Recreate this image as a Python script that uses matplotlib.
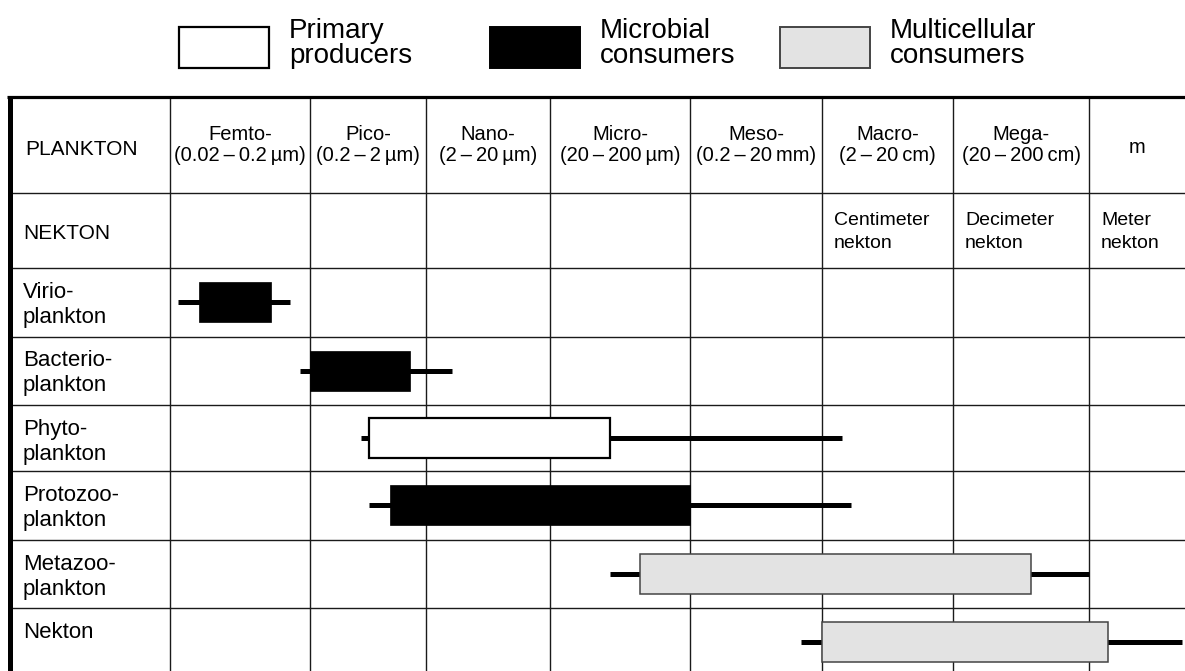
import numpy as np
import matplotlib.pyplot as plt
from matplotlib.patches import Rectangle

plt.rcParams['font.family'] = ['Liberation Sans', 'DejaVu Sans']

# ------------------------------------------------------------
# Data
# ------------------------------------------------------------

TS = "\u2009"  # thin space

size_classes = ["Femto-", "Pico-", "Nano-", "Micro-", "Meso-", "Macro-", "Mega-", "m"]
size_ranges = [
    f"(0.02{TS}\u2013{TS}0.2{TS}µm)",
    f"(0.2{TS}\u2013{TS}2{TS}µm)",
    f"(2{TS}\u2013{TS}20{TS}µm)",
    f"(20{TS}\u2013{TS}200{TS}µm)",
    f"(0.2{TS}\u2013{TS}20{TS}mm)",
    f"(2{TS}\u2013{TS}20{TS}cm)",
    f"(20{TS}\u2013{TS}200{TS}cm)",
    "",
]
nekton_classes = ["", "", "", "", "", "Centimeter\nnekton", "Decimeter\nnekton", "Meter\nnekton"]

groups = [
    "Virio-\nplankton",
    "Bacterio-\nplankton",
    "Phyto-\nplankton",
    "Protozoo-\nplankton",
    "Metazoo-\nplankton",
    "Nekton",
]
group_type = ["microbial", "microbial", "primary", "microbial", "multicellular", "multicellular"]

# extents in size-class units (0 = lower bound of Femto, 1 = Pico, ...)
range_min = [0.06, 0.93, 1.44, 1.51, 3.43, 4.84]
range_max = [0.86, 2.21, 5.15, 5.22, 7.00, 7.67]
core_min = [0.21, 1.00, 1.51, 1.69, 3.64, 5.00]
core_max = [0.72, 1.86, 3.43, 4.00, 6.57, 7.14]

legend_types = ["primary", "microbial", "multicellular"]
legend_labels = ["Primary\nproducers", "Microbial\nconsumers", "Multicellular\nconsumers"]

# ------------------------------------------------------------
# Layout / styles
# ------------------------------------------------------------

W, H = 1185, 671
col_edges = [170, 310, 426, 550, 690, 822, 953, 1089, 1228]
row_edges = [97, 192.5, 267.5, 336.5, 405, 471, 539.5, 607.5, 676]
legend_box_x = [179, 490, 780]

styles = {
    "primary": dict(facecolor="white", edgecolor="black", linewidth=1.6),
    "microbial": dict(facecolor="black", edgecolor="black", linewidth=0.5),
    "multicellular": dict(facecolor="#e3e3e3", edgecolor="#444444", linewidth=1.1),
}


def to_x(s):
    return np.interp(s, np.arange(len(col_edges)), col_edges)


fig = plt.figure(figsize=(W / 100, H / 100), dpi=100)
ax = fig.add_axes([0, 0, 1, 1])
ax.set_xlim(0, W)
ax.set_ylim(H, 0)
ax.axis("off")

# table grid
grid_color = "#1a1a1a"
ax.vlines(col_edges[:-1], row_edges[0], H, color=grid_color, lw=1.0)
ax.hlines(row_edges[1:-1], 9, W, color=grid_color, lw=1.0)
ax.hlines(row_edges[0], 7, W, color="black", lw=2.3)
ax.vlines(9.5, row_edges[0] - 1.5, H, color="black", lw=3.6)

# header row
ax.text(25, 155, "PLANKTON", fontsize=15, va="baseline", ha="left")
for i, (name, rng) in enumerate(zip(size_classes, size_ranges)):
    xc = (col_edges[i] + min(col_edges[i + 1], W)) / 2
    if rng:
        ax.text(xc, 140, name, fontsize=14.5, ha="center", va="baseline")
        ax.text(xc, 161, rng, fontsize=14.5, ha="center", va="baseline")
    else:
        ax.text(xc, 153, name, fontsize=14.5, ha="center", va="baseline")

# nekton row
ax.text(23, 239, "NEKTON", fontsize=15, va="baseline", ha="left")
for i, lab in enumerate(nekton_classes):
    for j, line in enumerate(lab.split("\n") if lab else []):
        ax.text(col_edges[i] + 12, 225 + 23 * j, line, fontsize=14, va="baseline", ha="left")

# group rows with ranges
for i, name in enumerate(groups):
    top = row_edges[i + 2]
    bottom = row_edges[i + 3]
    yc = (top + bottom) / 2
    for j, line in enumerate(name.split("\n")):
        ax.text(23, top + 30 + 25 * j, line, fontsize=16, va="baseline", ha="left")

    ax.hlines(yc, to_x(range_min[i]), to_x(range_max[i]), color="black",
              lw=3.6, capstyle="butt", zorder=2)
    x0 = to_x(core_min[i])
    x1 = to_x(core_max[i])
    ax.barh(yc, x1 - x0, left=x0, height=40, zorder=3, **styles[group_type[i]])

# legend
for bx, t, lab in zip(legend_box_x, legend_types, legend_labels):
    st = dict(styles[t])
    st["linewidth"] = max(st["linewidth"], 1.4)
    ax.add_patch(Rectangle((bx, 26.5), 90, 41, zorder=3, **st))
    for j, line in enumerate(lab.split("\n")):
        ax.text(bx + 110, 38 + 25 * j, line, fontsize=20, va="baseline", ha="left")

fig.savefig("out.png", dpi=100, facecolor="white")
plt.close(fig)
